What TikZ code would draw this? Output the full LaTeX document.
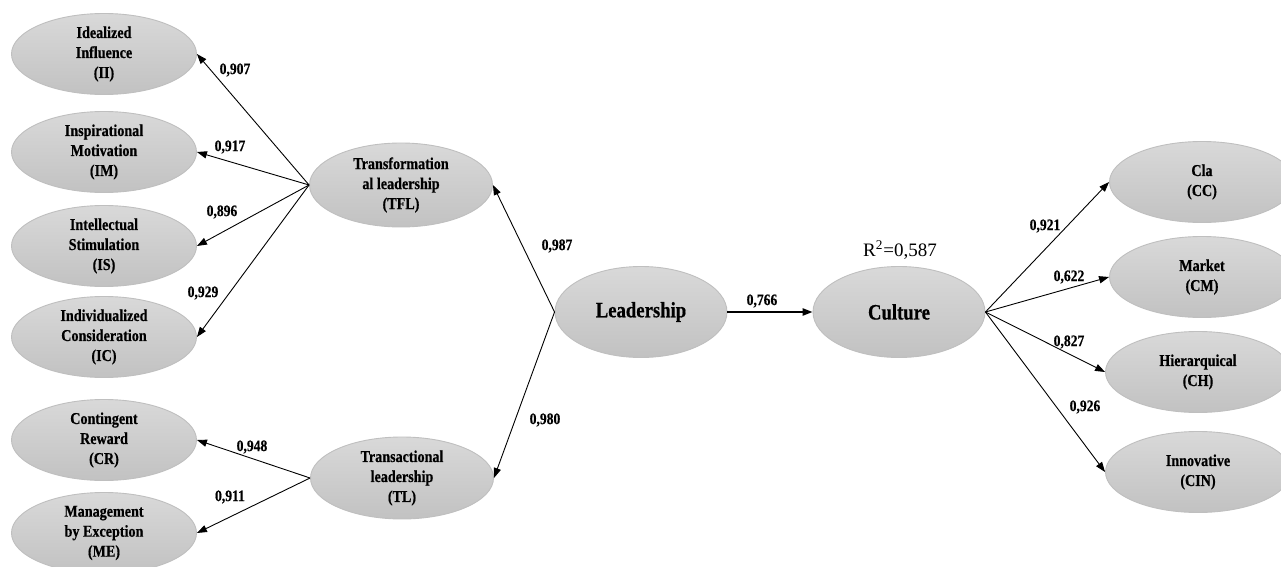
\documentclass[tikz,border=0pt]{standalone}
\usepackage{fontspec}
\setmainfont{Liberation Serif}[FakeStretch=0.85, BoldFeatures={FakeBold=0.5}]
\newfontfamily\rsqfont{Liberation Serif}
\usetikzlibrary{shapes.geometric,arrows.meta}

\begin{document}
\begin{tikzpicture}[x=0.5pt,y=-0.5pt,->,>={Triangle[length=5pt,width=3.6pt]},line width=0.45pt]
  \tikzstyle{construct}=[ellipse, top color=black!15, bottom color=black!24,
draw=black!25, inner sep=0pt, align=center, font=\bfseries\fontsize{8.3}{10}\selectfont,
minimum width=92.5pt, minimum height=40.5pt]
  \tikzstyle{latent}=[construct, minimum width=86pt, minimum height=45.5pt,
font=\bfseries\fontsize{11}{13}\selectfont]
  \tikzstyle{weight}=[inner sep=0pt, font=\bfseries\fontsize{8}{10}\selectfont]
  \useasboundingbox (0,0) rectangle (1281,567);
  % dimensions of transformational leadership
  \node[construct] (II) at (104,54)  {Idealized\\Influence\\(II)};
  \node[construct] (IM) at (104,152) {Inspirational\\Motivation\\(IM)};
  \node[construct] (IS) at (104,246) {Intellectual\\Stimulation\\(IS)};
  \node[construct] (IC) at (104,337) {Individualized\\Consideration\\(IC)};
  % dimensions of transactional leadership
  \node[construct] (CR) at (104,440) {Contingent\\Reward\\(CR)};
  \node[construct] (ME) at (104,533) {Management\\by Exception\\(ME)};
  % leadership styles
  \node[construct, minimum width=91.5pt, minimum height=42pt] (TFL) at (401,185) {Transformation\\al leadership\\(TFL)};
  \node[construct, minimum width=91.5pt, minimum height=41pt] (TL) at (402,478) {Transactional\\leadership\\(TL)};
  \node[latent] (LEAD) at (641,312) {Leadership};
  \node[latent] (CUL) at (899,312) {Culture};
  % culture types
  \node[construct] (CC)  at (1202,182) {Cla\\(CC)};
  \node[construct] (CM)  at (1202,277) {Market\\(CM)};
  \node[construct] (CH)  at (1198,372) {Hierarquical\\(CH)};
  \node[construct] (CIN) at (1198,472) {Innovative\\(CIN)};
  \draw (TFL.west) -- (II.east);
  \draw (TFL.west) -- (IM.east);
  \draw (TFL.west) -- (IS.east);
  \draw (TFL.west) -- (IC.east);
  \draw (TL.west) -- (CR.east);
  \draw (TL.west) -- (ME.east);
  \draw (LEAD.west) -- (TFL.east);
  \draw (LEAD.west) -- (TL.east);
  \draw[line width=0.9pt] (LEAD.east) -- (CUL.west);
  \draw (CUL.east) -- (CC.west);
  \draw (CUL.east) -- (CM.west);
  \draw (CUL.east) -- (CH.west);
  \draw (CUL.east) -- (CIN.west);
  % loadings and path coefficients
  \node[weight] (wII)  at (235,70)  {0,907};
  \node[weight] (wIM)  at (230,147) {0,917};
  \node[weight] (wIS)  at (222,212) {0,896};
  \node[weight] (wIC)  at (203,293) {0,929};
  \node[weight] (wCR)  at (252,447) {0,948};
  \node[weight] (wME)  at (230,497) {0,911};
  \node[weight] (wTFL) at (557,246) {0,987};
  \node[weight] (wTL)  at (545,420) {0,980};
  \node[weight] (wCUL) at (762,301) {0,766};
  \node[weight] (wCC)  at (1045,226) {0,921};
  \node[weight] (wCM)  at (1069,277) {0,622};
  \node[weight] (wCH)  at (1069,342) {0,827};
  \node[weight] (wCIN) at (1085,407) {0,926};
  \node[inner sep=0pt, font=\rsqfont\fontsize{9.5}{11}\selectfont] (rsq) at (900,250) {R\textsuperscript{2}=0,587};
\end{tikzpicture}
\end{document}
